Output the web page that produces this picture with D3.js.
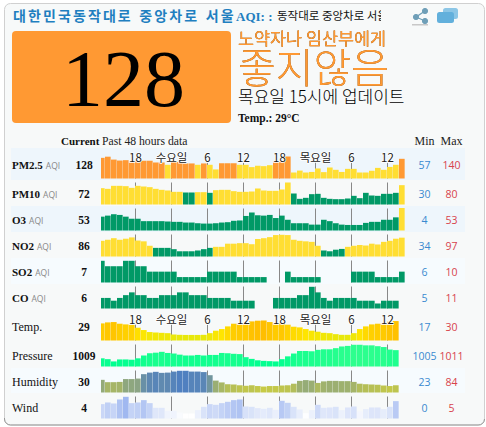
<!DOCTYPE html>
<html>
<head>
<meta charset="utf-8">
<script src="https://cdn.jsdelivr.net/npm/d3@7"></script>
<style>
html, body { margin: 0; padding: 0; background: #fff; }
svg { display: block; }
.ser { font-family: "Liberation Serif", serif; }
.kr { font-family: "Noto Sans CJK KR", sans-serif; }
</style>
</head>
<body>
<div id="chart"></div>
<script>
const pm25 = [133,139,124,119,121,111,118,118,118,109,109,97,116,112,104,104,97,104,97,73,105,105,105,97,97,85,92,90,95,112,112,140,57,67,57,60,78,59,83,71,60,76,76,57,57,66,81,71,86,97,128];
const pm10 = [63,61,70,70,69,64,70,68,66,61,58,56,52,52,50,50,51,51,49,57,58,58,54,52,52,53,62,56,55,55,59,80,47,31,34,45,46,34,31,30,30,32,40,33,49,41,40,46,46,49,72];
const o3 = [28,31,35,33,28,22,22,15,15,15,15,14,13,13,11,11,9,8,8,9,11,12,16,17,30,40,32,31,33,24,31,19,9,9,9,5,5,19,15,9,5,4,4,4,10,13,13,19,19,26,53];
const no2 = [74,78,84,78,82,87,75,72,55,47,47,47,42,34,34,34,37,42,47,51,51,63,63,65,65,61,81,84,88,96,97,96,78,74,72,70,55,37,34,40,43,51,55,58,56,63,60,70,74,82,86];
const so2 = [9,8,8,8,9,9,8,8,7,7,7,7,7,6,6,6,6,6,7,7,7,7,7,6,6,6,6,6,null,null,null,7,6,6,6,6,6,null,null,null,null,null,7,7,7,7,6,6,6,6,7];
const co = [7,7,6,7,8,9,8,8,7,7,8,8,8,9,9,8,8,8,7,7,7,7,6,6,6,6,null,null,null,7,7,7,7,8,8,11,9,7,6,7,7,7,7,6,6,6,5,6,6,6];
const temp = [27.4,28.3,28.6,27.1,26.5,26.2,23.5,21.4,19.6,19.2,18.9,18.6,17.4,17.1,17,17,17,17.1,18.6,20.8,22.3,24.7,27.1,27.7,27.7,29.2,29.8,30,28.6,27.4,28,26.2,24.4,23.8,22.3,20.8,19.9,18.9,18.6,17.7,17.1,17.1,18.6,22.3,24.7,26.5,27.1,27.7,28.9,29.5];
const pressure = [1006.1,1005.8,1005,1005.7,1005.7,1005.6,1006.1,1007.1,1007.9,1008.1,1008.4,1008,1007.8,1007.4,1007.1,1007.1,1007.3,1007.1,1007.3,1007.3,1008,1007.9,1007.7,1007.6,1006.5,1005.9,1005.4,1005.2,1005.1,1005,1005.8,1006.8,1007.8,1008.7,1008.7,1008.6,1009.1,1009.3,1009.3,1009.7,1010.3,1010.5,1010.9,1010.9,1010.7,1010.7,1010.4,1010.1,1009.2,1009];
const humidity = [49,40,40,41,52,52,54,71,77,80,76,77,81,84,84,81,81,79,67,46,39,32,31,28,26,28,25,23,25,25,27,28,34,45,48,46,37,43,45,45,44,44,41,34,32,31,30,27,25,28];
const wind = [2.8,3.3,3,4.2,5,3.1,3.3,4,3.1,1.7,1.7,0.8,0.8,0.3,0,0,1,2,2.8,2.6,3.1,3.5,4,4.2,2.1,2,1.6,1.4,1.7,1.1,3.8,3.2,2,1.2,0.1,1,2.6,1.7,1.8,2,1,1.8,2.1,0.6,1.3,1.8,1.8,1.3,2,3.7];

const rowNames = ['PM2.5','PM10','O3','NO2','SO2','CO','Temp.','Pressure','Humidity','Wind'];
const rowSeries = [pm25,pm10,o3,no2,so2,co,temp,pressure,humidity,wind];
const currents = [128,72,53,86,7,6,29,1009,30,4];
const mins = [57,30,4,34,6,5,17,1005,23,0];
const maxs = [140,80,53,97,10,11,30,1011,84,5];
const tickIdx = [6,12,18,24,30,36,42,48];
const tickLabels = ['18','수요일','6','12','18','목요일','6','12'];

const W = 486, H = 427;
const aqiColor = d3.scaleThreshold().domain([51,101,151]).range(['#009966','#ffde33','#ff9933','#cc0033']);
const rowColors = [aqiColor,aqiColor,aqiColor,aqiColor,aqiColor,aqiColor,
    d3.scaleLinear().domain([17,22,30]).range(['#e8e80a','#ffe600','#ffbe00']),
    d3.scaleLinear().domain([1005,1011]).range(['#00ff90','#2eff8e']),
    d3.scaleLinear().domain([23,84]).range(['#c7ca45','#5080c0']),
    d3.scaleLinear().domain([0,5]).range(['#ffffff','#a0b8f0'])];
// bar height scales, zero of the domain sits under the row minimum
const rowDomains = [[26,140],[14,80],[-12,53],[14,97],[5,9],[3.2,11],[12,30],[1003.2,1011],[0,84],[-1.5,5]];
const rowHeights = [22,22,22.5,21.7,21.7,21.7,20,22,21.7,21.7];
const baseY = i => i < 6 ? 178.5 + 26 * i : 340.5 + 26 * (i - 6);

const svg = d3.select('#chart').append('svg').attr('width', W).attr('height', H);
const defs = svg.append('defs');
defs.append('clipPath').attr('id','barclip').append('rect').attr('x',101).attr('y',140).attr('width',310).attr('height',285);
defs.append('clipPath').attr('id','headclip').append('rect').attr('x',270).attr('y',5).attr('width',111).attr('height',22);

svg.append('rect').attr('x',4.5).attr('y',3.5).attr('width',480).attr('height',421.5).attr('rx',6)
    .attr('fill','#f7f9f9').attr('stroke','#d0d0d0');
svg.append('path').attr('d','M4.5 418 v1 a6 6 0 0 0 6 6 H478 a6 6 0 0 0 6.5 -6').attr('fill','none').attr('stroke','#999');

// header
svg.append('text').attr('class','kr').attr('x',13).attr('y',21).attr('font-size',14).attr('font-weight',700)
    .attr('fill','#1f7fc0').attr('letter-spacing',2.1).attr('word-spacing',1.2).text('대한민국동작대로 중앙차로 서울');
svg.append('text').attr('class','ser').attr('x',236).attr('y',21).attr('font-size',13).attr('font-weight',700)
    .attr('fill','#1f7fc0').text('AQI: :');
svg.append('g').attr('clip-path','url(#headclip)').append('text').attr('class','kr').attr('x',277).attr('y',20)
    .attr('font-size',11.5).attr('fill','#111').text('동작대로 중앙차로 서울');

// share and window icons
const share = svg.append('g').attr('fill','#6f9fb8').attr('stroke','#6f9fb8');
share.append('path').attr('d','M425 11 L416 17 L425 21').attr('fill','none').attr('stroke-width',1.2);
[[425,11],[416,17],[425,21]].forEach(p => share.append('circle').attr('cx',p[0]).attr('cy',p[1]).attr('r',2.6));
svg.append('rect').attr('x',412).attr('y',24).attr('width',16).attr('height',1.5).attr('fill','#c8c8c8');
svg.append('rect').attr('x',443).attr('y',8).attr('width',15).attr('height',11).attr('rx',2.5).attr('fill','#8cc6e6');
svg.append('rect').attr('x',437).attr('y',12).attr('width',17).attr('height',11).attr('rx',2.5).attr('fill','#62b0dc');

// current AQI block
svg.append('rect').attr('x',12).attr('y',31).attr('width',219).attr('height',92).attr('rx',4).attr('fill','#ff9933');
svg.append('text').attr('class','ser').attr('x',62).attr('y',105.5).attr('font-size',80).attr('fill','#000')
    .attr('textLength',123).attr('lengthAdjust','spacingAndGlyphs').text(currents[0]);
const shadow = 'drop-shadow(0.7px 0.7px 0.3px #6a3d08)';
svg.append('text').attr('class','kr').attr('x',238).attr('y',45).attr('font-size',17.4).attr('fill','#ff9933').style('filter',shadow).text('노약자나 임산부에게');
svg.append('text').attr('class','kr').attr('x',238).attr('y',83).attr('font-size',41).attr('font-weight',300).attr('fill','#ff9933').style('filter',shadow).text('좋지않음');
svg.append('text').attr('class','kr').attr('x',238).attr('y',103).attr('font-size',17).attr('font-weight',300).attr('fill','#000').text('목요일 15시에 업데이트');
svg.append('text').attr('class','ser').attr('x',238).attr('y',122).attr('font-size',11.5).attr('font-weight',700).attr('fill','#111').text('Temp.: 29°C');

// table header
svg.append('text').attr('class','ser').attr('x',61).attr('y',145).attr('font-size',11).attr('font-weight',700).attr('fill','#111').text('Current');
svg.append('text').attr('class','ser').attr('x',102).attr('y',145).attr('font-size',11.7).attr('fill','#222').text('Past 48 hours data');
svg.append('text').attr('class','ser').attr('x',424.5).attr('y',145).attr('text-anchor','middle').attr('font-size',12).attr('fill','#222').text('Min');
svg.append('text').attr('class','ser').attr('x',451.5).attr('y',145).attr('text-anchor','middle').attr('font-size',12).attr('fill','#222').text('Max');

// row backgrounds
[[0,148,180,'#eef6fc'],[2,206,232,'#eef6fc'],[4,258,284,'#f6fbfe'],[8,368,393,'#f6fbfe']].forEach(b => {
    svg.append('rect').attr('x',11).attr('y',b[1]).attr('width',454).attr('height',b[2]-b[1]).attr('fill',b[3]);
});

const x = d3.scaleLinear().domain([0,51]).range([99,405]);
const barW = x(1) - x(0) - 0.35;

rowSeries.forEach((vals, r) => {
    const y0 = baseY(r);
    const h = d3.scaleLinear().domain(rowDomains[r]).range([0, rowHeights[r]]);
    const g = svg.append('g');
    const hasLabels = r === 0 || r === 6;

    g.selectAll('line.tick').data(tickIdx).join('line').attr('class','tick')
        .attr('x1', d => x(d) + 0.5).attr('x2', d => x(d) + 0.5)
        .attr('y1', y0 - (hasLabels ? 16 : 22)).attr('y2', y0)
        .attr('stroke','#888').attr('stroke-width',1);

    g.append('g').attr('clip-path','url(#barclip)').selectAll('rect')
        .data(vals.map((v, i) => ({v, i})).filter(d => d.v !== null))
        .join('rect')
        .attr('x', d => x(d.i)).attr('width', barW)
        .attr('y', d => y0 - h(d.v)).attr('height', d => h(d.v))
        .attr('fill', d => rowColors[r](d.v));

    if (hasLabels) {
        g.selectAll('text.tl').data(tickIdx).join('text').attr('class','tl kr')
            .attr('x', d => x(d) + 0.5).attr('y', y0 - 17)
            .attr('text-anchor','middle').attr('font-size',11.5).attr('fill','#222')
            .attr('stroke','#fff').attr('stroke-width',1.5).attr('paint-order','stroke')
            .text((d, i) => tickLabels[i]);
    }

    const ty = y0 - (hasLabels ? 9.5 : 6.5);
    const name = svg.append('text').attr('class','ser').attr('x',12).attr('y',ty).attr('font-size', r < 6 ? 11 : 12).attr('fill','#111');
    name.append('tspan').attr('font-weight', r < 6 ? 700 : 400).text(rowNames[r]);
    if (r < 6) {
        name.append('tspan').attr('dx',3).attr('font-size',8.5).attr('fill','#888')
            .attr('font-family','"Open Sans", sans-serif').text('AQI');
    }
    svg.append('text').attr('class','ser').attr('x',84).attr('y',ty).attr('text-anchor','middle').attr('font-size',11.5).attr('font-weight',700).attr('fill','#111').text(currents[r]);
    svg.append('text').attr('x',424.5).attr('y',ty).attr('text-anchor','middle').attr('font-family','"Open Sans", sans-serif').attr('font-size',10.5).attr('fill','#3a8ad0').text(mins[r]);
    svg.append('text').attr('x',451.5).attr('y',ty).attr('text-anchor','middle').attr('font-family','"Open Sans", sans-serif').attr('font-size',10.5).attr('fill','#d8434c').text(maxs[r]);
});
</script>
</body>
</html>
